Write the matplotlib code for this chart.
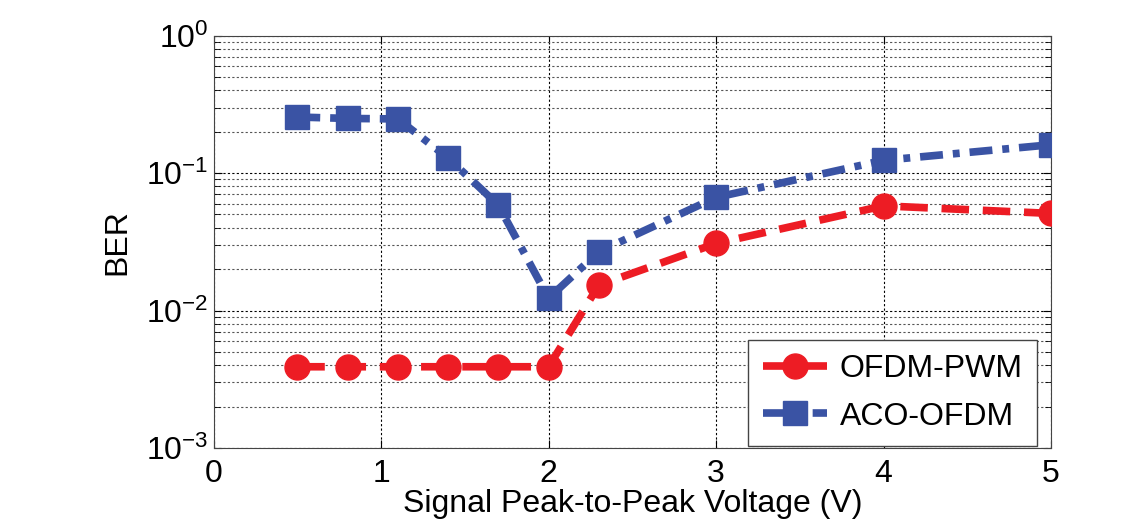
import matplotlib
matplotlib.use("Agg")
import matplotlib.pyplot as plt
from matplotlib.ticker import LogLocator, NullFormatter, FixedLocator

plt.rcParams['font.family'] = ['Liberation Sans', 'DejaVu Sans']

x_pwm = [0.5, 0.8, 1.1, 1.4, 1.7, 2.0, 2.3, 3.0, 4.0, 5.0]
ber_pwm = [0.0039, 0.0039, 0.0039, 0.0039, 0.0039, 0.0039, 0.0153, 0.0308, 0.0578, 0.0509]
x_aco = [0.5, 0.8, 1.1, 1.4, 1.7, 2.0, 2.3, 3.0, 4.0, 5.0]
ber_aco = [0.256, 0.250, 0.248, 0.129, 0.0585, 0.0123, 0.0268, 0.0666, 0.124, 0.161]
xticks = [0, 1, 2, 3, 4, 5]

red = '#ED1C24'
blue = '#3A53A4'

fig = plt.figure(figsize=(11.45, 5.22), dpi=100)
ax = fig.add_axes([0.1865, 0.1418, 0.7315, 0.7898])

ax.set_yscale('log')
ax.set_xlim(0, 5)
ax.set_ylim(1e-3, 1)

ax.plot(x_pwm, ber_pwm, color=red, lw=5.5, marker='o', ms=18,
        dashes=(3.6, 1.8), label='OFDM-PWM', zorder=3)
ax.plot(x_aco, ber_aco, color=blue, lw=5.5, marker='s', ms=17,
        dashes=(3.0, 1.3, 0.9, 1.3), label='ACO-OFDM', zorder=3)

ax.xaxis.set_major_locator(FixedLocator(xticks))
ax.yaxis.set_major_locator(LogLocator(base=10, numticks=10))
ax.yaxis.set_minor_locator(LogLocator(base=10, subs=range(2, 10), numticks=20))
ax.yaxis.set_minor_formatter(NullFormatter())

ax.grid(True, which='major', axis='both', color='black', ls=(0, (2, 2)), lw=0.8)
ax.grid(True, which='minor', axis='y', color='#555555', ls=(0, (2, 2)), lw=0.8)

ax.tick_params(which='both', direction='in', top=True, right=True, labelsize=23)
ax.tick_params(which='major', length=6)
ax.tick_params(which='minor', length=4)
ax.tick_params(axis='x', pad=8)
for s in ax.spines.values():
    s.set_color('#444444')

ax.set_xlabel('Signal Peak-to-Peak Voltage (V)', fontsize=23, labelpad=0)
ax.set_ylabel('BER', fontsize=23, labelpad=10)

leg = ax.legend(loc='lower right', fontsize=23, frameon=True, fancybox=False,
                edgecolor='#444444', framealpha=1, borderpad=0.45,
                handlelength=2.0, handletextpad=0.4, labelspacing=0.55,
                borderaxespad=0, bbox_to_anchor=(0.983, 0.005))
leg.get_frame().set_linewidth(1.0)

fig.savefig('out.png', dpi=100)
